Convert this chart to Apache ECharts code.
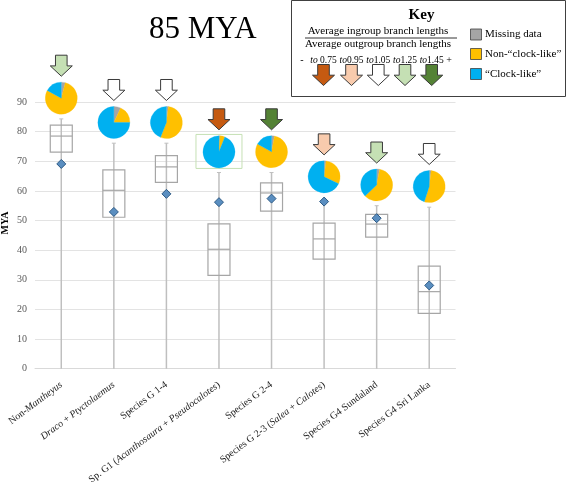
<!DOCTYPE html>
<html><head><meta charset="utf-8">
<script src="https://cdn.jsdelivr.net/npm/echarts/dist/echarts.min.js"></script>
<style>html,body{margin:0;padding:0;background:#fff}#c{width:567px;height:482px}</style>
</head><body><div id="c"></div>
<script>
// ---- data ----
const categories = [
  'Non-{i|Mantheyus}',
  '{i|Draco} + {i|Ptyctolaemus}',
  'Species G 1-4',
  'Sp. G1 ({i|Acanthosaura} + {i|Pseudocalotes})',
  'Species G 2-4',
  'Species G 2-3 ({i|Salea} + {i|Calotes})',
  'Species G4 Sundaland',
  'Species G4 Sri Lanka'
];
const whiskerMin = [0, 0, 0, 0, 0, 0, 0, 0];
const q1         = [73.1, 51.1, 62.9, 31.5, 53.2, 37.0, 44.4, 18.7];
const median     = [78.5, 60.2, 68.1, 40.3, 59.3, 43.8, 48.8, 26.0];
const q3         = [82.2, 67.1, 71.9, 48.9, 62.7, 49.1, 52.1, 34.6];
const whiskerMax = [84.3, 76.1, 76.1, 66.2, 66.2, 55.5, 55.0, 54.5];
const meanAge    = [69.1, 52.9, 59.0, 56.2, 57.4, 56.4, 50.8, 28.1];
const missingPct  = [4, 7, 2, 1, 3, 2, 3, 2];
const nonClockPct = [79, 18, 54, 5, 80, 30, 60, 53];
const clockPct    = [17, 75, 44, 94, 17, 68, 37, 45];
// ratio class: 0 "to 0.75", 1 "to0.95", 2 "to1.05", 3 "to1.25", 4 "to1.45"
const ratioClass = [3, 2, 2, 0, 4, 1, 3, 2];
const ratioLabels = ['to 0.75', 'to0.95', 'to1.05', 'to1.25', 'to1.45'];
const pieNames = ['Missing data', 'Non-\u201Cclock-like\u201D', '\u201CClock-like\u201D'];
const framedCategory = 3;
const yTicks = [0, 10, 20, 30, 40, 50, 60, 70, 80, 90];

// ---- styles ----
const arrowColors = ['#C55A11', '#F8CBAD', '#FFFFFF', '#C5E0B4', '#548235'];
const pieColors = ['#A5A5A5', '#FFC000', '#00B0F0'];
const SERIF = '"Liberation Serif", "DejaVu Serif", serif';

function arrowPoints(cx, top, s) {
  s = s || 1;
  const hw = 11 * s, sw = 5.8 * s, sh = 10.7 * s, h = 21 * s;
  return [[cx - sw, top], [cx + sw, top], [cx + sw, top + sh], [cx + hw, top + sh],
          [cx, top + h], [cx - hw, top + sh], [cx - sw, top + sh]];
}

const boxData = categories.map((c, i) => [i, whiskerMin[i], q1[i], median[i], q3[i], whiskerMax[i],
  meanAge[i], missingPct[i], nonClockPct[i], clockPct[i], ratioClass[i]]);

function renderBox(params, api) {
  const i = api.value(0);
  const bw = 22;
  const pMin = api.coord([i, api.value(1)]);
  const pQ1 = api.coord([i, api.value(2)]);
  const pMed = api.coord([i, api.value(3)]);
  const pQ3 = api.coord([i, api.value(4)]);
  const pMax = api.coord([i, api.value(5)]);
  const pMean = api.coord([i, api.value(6)]);
  const x = pMed[0];
  const children = [];
  children.push({type: 'line', shape: {x1: x, y1: pMin[1], x2: x, y2: pMax[1]},
    style: {stroke: '#BFBFBF', lineWidth: 1.5}});
  children.push({type: 'line', shape: {x1: x - 2, y1: pMax[1], x2: x + 2, y2: pMax[1]},
    style: {stroke: '#BFBFBF', lineWidth: 1}});
  children.push({type: 'rect', shape: {x: x - bw / 2, y: pQ3[1], width: bw, height: pQ1[1] - pQ3[1]},
    style: {fill: null, stroke: '#A6A6A6', lineWidth: 1.2}});
  children.push({type: 'line', shape: {x1: x - bw / 2, y1: pMed[1], x2: x + bw / 2, y2: pMed[1]},
    style: {stroke: '#A6A6A6', lineWidth: 1.2}});
  // pie placed above the highest mark
  const anchor = Math.min(pMax[1], pMean[1] - 4);
  const r = 16;
  const cy = anchor - 20.7;
  if (i === framedCategory) {
    children.push({type: 'rect', shape: {x: x - 23, y: cy - 17.4, width: 46, height: 34},
      style: {fill: null, stroke: '#C5E0B4', lineWidth: 1}});
  }
  const vals = [api.value(7), api.value(8), api.value(9)];
  const tot = vals[0] + vals[1] + vals[2];
  let a = -Math.PI / 2;
  vals.forEach((v, k) => {
    const e = a + v / tot * Math.PI * 2;
    children.push({type: 'sector', shape: {cx: x, cy: cy, r: r, r0: 0, startAngle: a, endAngle: e, clockwise: true},
      style: {fill: pieColors[k], stroke: pieColors[k], lineWidth: 0.3}});
    a = e;
  });
  const cls = api.value(10);
  children.push({type: 'polygon', shape: {points: arrowPoints(x, cy - r - 6 - 21)},
    style: {fill: arrowColors[cls], stroke: '#3A3A3A', lineWidth: 1}});
  return {type: 'group', children: children};
}

// ---- key ----
const keyEls = [];
keyEls.push({type: 'rect', shape: {x: 291.5, y: 0.5, width: 274, height: 96},
  style: {fill: '#fff', stroke: '#404040', lineWidth: 1}});
keyEls.push({type: 'text', x: 421.5, y: 15, style: {text: 'Key', font: 'bold 15px ' + SERIF,
  fill: '#000', align: 'center', verticalAlign: 'middle'}});
keyEls.push({type: 'text', x: 378, y: 31.5, style: {text: 'Average ingroup branch lengths',
  font: '11px ' + SERIF, fill: '#000', align: 'center', verticalAlign: 'middle'}});
keyEls.push({type: 'line', shape: {x1: 305, y1: 38, x2: 457, y2: 38}, style: {stroke: '#000', lineWidth: 0.8}});
keyEls.push({type: 'text', x: 378, y: 44, style: {text: 'Average outgroup branch lengths',
  font: '11px ' + SERIF, fill: '#000', align: 'center', verticalAlign: 'middle'}});
keyEls.push({type: 'text', x: 302, y: 60, style: {text: '-', font: '10px ' + SERIF, fill: '#000',
  align: 'center', verticalAlign: 'middle'}});
keyEls.push({type: 'text', x: 449, y: 60, style: {text: '+', font: '10px ' + SERIF, fill: '#000',
  align: 'center', verticalAlign: 'middle'}});
const keyX = [323.5, 351.5, 378.3, 405, 431.7];
ratioLabels.forEach((lab, k) => {
  const num = lab.replace('to', '');
  keyEls.push({type: 'text', x: keyX[k], y: 60, style: {
    text: '{i|to}{n|' + num + '}', align: 'center', verticalAlign: 'middle',
    rich: {i: {font: 'italic 9.5px ' + SERIF, fill: '#000'}, n: {font: '9.5px ' + SERIF, fill: '#000'}}}});
  keyEls.push({type: 'polygon', shape: {points: arrowPoints(keyX[k], 64.5)},
    style: {fill: arrowColors[k], stroke: '#3A3A3A', lineWidth: 1}});
});
const legY = [34.5, 54, 74];
pieNames.forEach((n, k) => {
  keyEls.push({type: 'rect', shape: {x: 470.5, y: legY[k] - 5.5, width: 11, height: 11},
    style: {fill: pieColors[k], stroke: '#404040', lineWidth: 0.8}});
  keyEls.push({type: 'text', x: 485, y: legY[k], style: {text: n, font: '11px ' + SERIF,
    fill: '#000', align: 'left', verticalAlign: 'middle'}});
});

const chart = echarts.init(document.getElementById('c'), null, {renderer: 'canvas'});
chart.setOption({
  animation: false,
  backgroundColor: '#fff',
  title: {text: '85 MYA', left: 144, top: 9,
    textStyle: {fontFamily: SERIF, fontSize: 31, fontWeight: 'normal', color: '#000'}},
  grid: {left: 35, right: 111.5, top: 102, bottom: 113.3, containLabel: false, outerBoundsMode: 'none'},
  xAxis: {
    type: 'category', data: categories,
    axisLine: {show: true, lineStyle: {color: '#D9D9D9'}},
    axisTick: {show: false},
    splitLine: {show: false},
    axisLabel: {rotate: 37, margin: 15, fontFamily: SERIF, fontSize: 10, color: '#1A1A1A', interval: 0,
      rich: {i: {fontStyle: 'italic', fontFamily: SERIF, fontSize: 10, color: '#1A1A1A'}}}
  },
  yAxis: {
    type: 'value', min: yTicks[0], max: yTicks[yTicks.length - 1], interval: 10,
    axisLine: {show: false}, axisTick: {show: false},
    splitLine: {lineStyle: {color: '#E3E3E3', width: 1}},
    axisLabel: {fontFamily: SERIF, fontSize: 10, color: '#595959', margin: 8}
  },
  series: [
    {type: 'custom', name: 'Ages', data: boxData, renderItem: renderBox,
      encode: {x: 0, y: [1, 2, 3, 4, 5]}, clip: false, z: 2},
    {type: 'scatter', name: 'Mean', data: meanAge.map((m, i) => [i, m]), symbol: 'diamond', symbolSize: 9,
      itemStyle: {color: '#5A8EC0', borderColor: '#2E5B86', borderWidth: 1, opacity: 1}, z: 3}
  ],
  graphic: [
    {type: 'text', x: 5.5, y: 223, rotation: Math.PI / 2, style: {text: 'MYA', font: 'bold 10px ' + SERIF,
      fill: '#000', align: 'center', verticalAlign: 'middle'}},
    {type: 'group', children: keyEls}
  ]
});
</script>
</body></html>
